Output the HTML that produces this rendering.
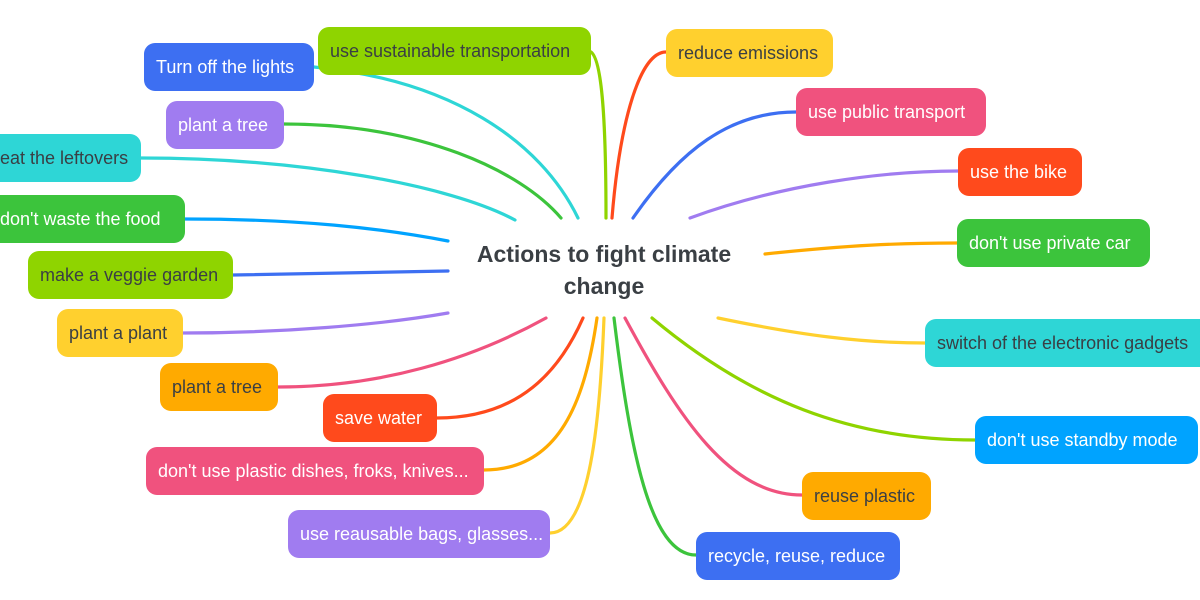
<!DOCTYPE html>
<html><head><meta charset="utf-8"><style>
body{margin:0;width:1200px;height:600px;overflow:hidden;background:#fff;position:relative;font-family:"Liberation Sans",sans-serif}
.n{position:absolute;height:48px;line-height:49px;border-radius:11px;font-size:18px;padding:0 12px;white-space:nowrap;box-sizing:border-box;overflow:hidden}
.w{color:#fff}.d{color:#3a3f44}
svg{position:absolute;left:0;top:0}
.c{position:absolute;left:430px;top:238px;width:348px;text-align:center;font-weight:bold;font-size:23px;line-height:32px;color:#3a3f44}
</style></head><body>
<svg width="1200" height="600" fill="none" stroke-width="3.2" stroke-linecap="round">
<path d="M606,218 C606,120 602,60 591,52" stroke="#8fd400"/>
<path d="M578,218 C540,140 450,80 314,67" stroke="#2ed6d6"/>
<path d="M561,218 C520,170 420,124 284,124" stroke="#3cc43c"/>
<path d="M515,220 C450,185 300,158 141,158" stroke="#2ed6d6"/>
<path d="M448,241 C380,228 300,219 185,219" stroke="#00a3ff"/>
<path d="M448,271 L233,275" stroke="#3d6ff2"/>
<path d="M448,313 C380,325 280,333 183,333" stroke="#a07cf0"/>
<path d="M546,318 C470,360 380,387 278,387" stroke="#f0527e"/>
<path d="M583,318 C560,370 520,418 437,418" stroke="#ff4a1c"/>
<path d="M597,318 C585,400 560,470 484,470" stroke="#ffaa00"/>
<path d="M604,318 C600,420 590,533 550,533" stroke="#ffd02e"/>
<path d="M612,218 C620,120 640,52 666,52" stroke="#ff4a1c"/>
<path d="M633,218 C680,150 730,112 796,112" stroke="#3d6ff2"/>
<path d="M690,218 C780,185 880,171 958,171" stroke="#a07cf0"/>
<path d="M765,254 C850,245 900,243 957,243" stroke="#ffaa00"/>
<path d="M718,318 C800,335 860,343 925,343" stroke="#ffd02e"/>
<path d="M652,318 C750,400 850,440 975,440" stroke="#8fd400"/>
<path d="M625,318 C680,420 730,495 802,495" stroke="#f0527e"/>
<path d="M614,318 C630,450 650,555 696,555" stroke="#3cc43c"/>
</svg>
<div class="c">Actions to fight climate<br>change</div>
<div class="n d" style="left:318px;top:27px;width:273px;background:#8fd400">use sustainable transportation</div>
<div class="n w" style="left:144px;top:43px;width:170px;background:#3d6ff2">Turn off the lights</div>
<div class="n w" style="left:166px;top:101px;width:118px;background:#a07cf0">plant a tree</div>
<div class="n d" style="left:-12px;top:134px;width:153px;background:#2ed6d6">eat the leftovers</div>
<div class="n w" style="left:-12px;top:195px;width:197px;background:#3cc43c">don't waste the food</div>
<div class="n d" style="left:28px;top:251px;width:205px;background:#8fd400">make a veggie garden</div>
<div class="n d" style="left:57px;top:309px;width:126px;background:#ffd02e">plant a plant</div>
<div class="n d" style="left:160px;top:363px;width:118px;background:#ffaa00">plant a tree</div>
<div class="n w" style="left:323px;top:394px;width:114px;background:#ff4a1c">save water</div>
<div class="n w" style="left:146px;top:447px;width:338px;background:#f0527e">don't use plastic dishes, froks, knives...</div>
<div class="n w" style="left:288px;top:510px;width:262px;background:#a07cf0">use reausable bags, glasses...</div>
<div class="n d" style="left:666px;top:29px;width:167px;background:#ffd02e">reduce emissions</div>
<div class="n w" style="left:796px;top:88px;width:190px;background:#f0527e">use public transport</div>
<div class="n w" style="left:958px;top:148px;width:124px;background:#ff4a1c">use the bike</div>
<div class="n w" style="left:957px;top:219px;width:193px;background:#3cc43c">don't use private car</div>
<div class="n d" style="left:925px;top:319px;width:290px;background:#2ed6d6">switch of the electronic gadgets</div>
<div class="n w" style="left:975px;top:416px;width:223px;background:#00a3ff">don't use standby mode</div>
<div class="n d" style="left:802px;top:472px;width:129px;background:#ffaa00">reuse plastic</div>
<div class="n w" style="left:696px;top:532px;width:204px;background:#3d6ff2">recycle, reuse, reduce</div>
</body></html>
